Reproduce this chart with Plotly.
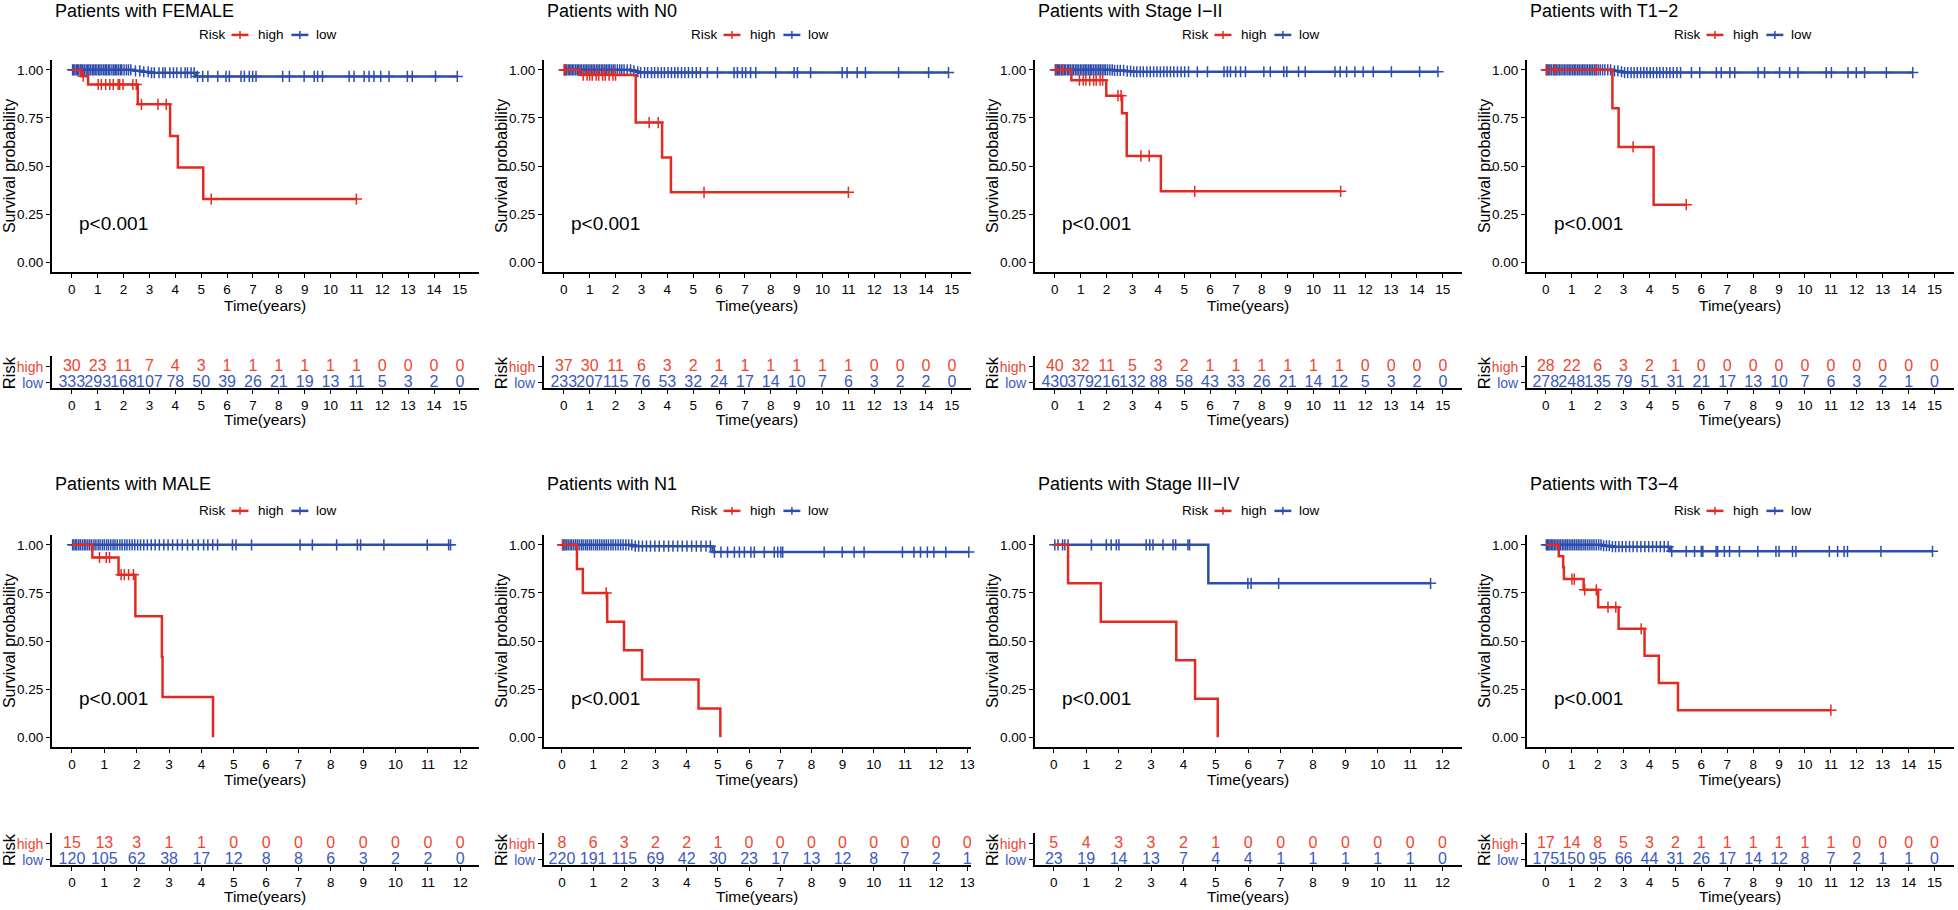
import plotly.graph_objects as go

W, H = 1958, 910
FONT = "Liberation Sans, Arial, sans-serif"
RED = "#E42A20"
BLUE = "#2C4DAE"
RED_T = "#EE4630"
BLUE_T = "#3B5BC0"

# ---------------- data ----------------
TITLES = ["Patients with FEMALE", "Patients with N0", "Patients with Stage I\u2212II", "Patients with T1\u22122",
          "Patients with MALE", "Patients with N1", "Patients with Stage III\u2212IV", "Patients with T3\u22124"]
PVALUE = "p<0.001"
X_MAX_TICK = [15, 15, 15, 15, 12, 13, 12, 15]
X_RANGES = [[-0.77, 15.74], [-0.77, 15.74], [-0.77, 15.74], [-0.73, 15.75],
            [-0.62, 12.58], [-0.58, 13.12], [-0.585, 12.6], [-0.73, 15.75]]

# FEMALE
FEMALE_HIGH_T = [0, 0.37, 0.63, 2.55, 3.8, 4.1, 5.08]
FEMALE_HIGH_S = [1.0, 0.967, 0.924, 0.821, 0.657, 0.493, 0.329]
FEMALE_HIGH_CENS = [0.44, 1.02, 1.14, 1.31, 1.47, 1.6, 1.79, 1.85, 1.98, 2.36, 2.49, 2.69, 3.33, 3.65, 5.39, 11.0]
FEMALE_LOW_T = [0, 2.4, 2.7, 3.0, 4.8]
FEMALE_LOW_S = [1.0, 0.995, 0.99, 0.985, 0.966]
FEMALE_LOW_CENS = [0.03, 0.07, 0.12, 0.18, 0.21, 0.27, 0.33, 0.36, 0.42, 0.48, 0.55, 0.61, 0.66, 0.72, 0.79, 0.85,
                   0.91, 0.97, 1.04, 1.09, 1.16, 1.23, 1.29, 1.34, 1.41, 1.47, 1.55, 1.62, 1.68, 1.74, 1.81, 1.88,
                   1.93, 2.02, 2.11, 2.19, 2.28, 2.46, 2.63, 2.78, 2.95, 3.08, 3.19, 3.37, 3.52, 3.61, 3.79, 3.93,
                   4.06, 4.22, 4.38, 4.47, 4.61, 4.73, 4.86, 5.06, 5.26, 5.64, 5.96, 6.09, 6.54, 6.67, 6.86, 6.99,
                   7.12, 8.15, 8.41, 8.98, 9.37, 9.5, 9.69, 10.72, 10.91, 11.3, 11.49, 11.68, 11.94, 12.26, 12.97,
                   13.16, 14.06, 14.9]
FEMALE_RISK_HIGH = [30, 23, 11, 7, 4, 3, 1, 1, 1, 1, 1, 1, 0, 0, 0, 0]
FEMALE_RISK_LOW = [333, 293, 168, 107, 78, 50, 39, 26, 21, 19, 13, 11, 5, 3, 2, 0]

# N0
N0_HIGH_T = [0, 0.62, 2.78, 3.8, 4.14]
N0_HIGH_S = [1.0, 0.973, 0.726, 0.545, 0.364]
N0_HIGH_CENS = [0.02, 0.05, 0.75, 0.9, 1.0, 1.1, 1.25, 1.35, 1.5, 1.6, 1.75, 1.9, 2.0, 3.3, 3.65, 5.42, 11.0]
N0_LOW_T = [0, 2.6, 2.8, 2.9]
N0_LOW_S = [1.0, 0.995, 0.99, 0.986]
N0_LOW_CENS = [0.02, 0.06, 0.11, 0.17, 0.23, 0.28, 0.34, 0.39, 0.46, 0.52, 0.57, 0.63, 0.69, 0.76, 0.82, 0.88,
               0.94, 1.01, 1.07, 1.13, 1.19, 1.26, 1.32, 1.38, 1.45, 1.51, 1.58, 1.64, 1.71, 1.77, 1.84, 1.91,
               1.98, 2.07, 2.16, 2.24, 2.33, 2.45, 2.58, 2.71, 2.86, 2.97, 3.12, 3.24, 3.39, 3.51, 3.64, 3.77,
               3.89, 4.03, 4.16, 4.29, 4.41, 4.55, 4.68, 4.82, 4.97, 5.12, 5.28, 5.55, 5.94, 6.58, 6.71, 6.9,
               7.03, 7.22, 7.42, 8.19, 8.9, 9.03, 9.54, 10.76, 10.95, 11.34, 11.66, 12.94, 14.1, 14.87]
N0_RISK_HIGH = [37, 30, 11, 6, 3, 2, 1, 1, 1, 1, 1, 1, 0, 0, 0, 0]
N0_RISK_LOW = [233, 207, 115, 76, 53, 32, 24, 17, 14, 10, 7, 6, 3, 2, 2, 0]

# Stage I-II
S12_HIGH_T = [0, 0.64, 1.99, 2.6, 2.78, 4.1]
S12_HIGH_S = [1.0, 0.946, 0.866, 0.774, 0.553, 0.369]
S12_HIGH_CENS = [0.05, 0.3, 0.95, 1.1, 1.2, 1.35, 1.5, 1.6, 1.75, 1.85, 2.44, 2.56, 3.33, 3.65, 5.41, 11.05]
S12_LOW_T = [0, 2.3, 2.7, 2.95]
S12_LOW_S = [1.0, 0.997, 0.993, 0.99]
S12_LOW_CENS = [0.02, 0.05, 0.1, 0.14, 0.19, 0.25, 0.31, 0.37, 0.42, 0.49, 0.54, 0.6, 0.67, 0.73, 0.8, 0.86,
                0.92, 0.99, 1.05, 1.12, 1.18, 1.24, 1.31, 1.37, 1.43, 1.5, 1.57, 1.63, 1.7, 1.76, 1.83, 1.9,
                1.96, 2.04, 2.13, 2.22, 2.31, 2.42, 2.53, 2.66, 2.8, 2.93, 3.05, 3.17, 3.3, 3.42, 3.56, 3.69,
                3.82, 3.95, 4.08, 4.21, 4.34, 4.47, 4.6, 4.74, 4.88, 5.02, 5.17, 5.51, 5.9, 6.54, 6.67, 6.79,
                6.99, 7.18, 7.37, 8.08, 8.33, 8.85, 8.97, 9.42, 9.68, 10.83, 11.03, 11.28, 11.6, 11.92, 12.31,
                13.01, 14.1, 14.81]
S12_RISK_HIGH = [40, 32, 11, 5, 3, 2, 1, 1, 1, 1, 1, 1, 0, 0, 0, 0]
S12_RISK_LOW = [430, 379, 216, 132, 88, 58, 43, 33, 26, 21, 14, 12, 5, 3, 2, 0]

# T1-2
T12_HIGH_T = [0, 2.57, 2.81, 4.16]
T12_HIGH_S = [1.0, 0.8, 0.6, 0.3]
T12_HIGH_CENS = [0.03, 0.35, 1.95, 3.37, 5.42]
T12_LOW_T = [0, 2.6, 2.8, 3.0]
T12_LOW_S = [1.0, 0.995, 0.99, 0.986]
T12_LOW_CENS = [0.02, 0.07, 0.12, 0.16, 0.22, 0.29, 0.35, 0.41, 0.47, 0.53, 0.59, 0.66, 0.72, 0.78, 0.85, 0.91,
                0.97, 1.04, 1.1, 1.16, 1.23, 1.29, 1.36, 1.42, 1.48, 1.55, 1.61, 1.68, 1.74, 1.8, 1.87, 1.94,
                2.02, 2.1, 2.19, 2.28, 2.39, 2.5, 2.65, 2.78, 2.92, 3.04, 3.16, 3.29, 3.41, 3.53, 3.66, 3.78,
                3.9, 4.03, 4.15, 4.28, 4.4, 4.53, 4.66, 4.79, 4.92, 5.06, 5.2, 5.62, 5.94, 6.58, 6.77, 7.1, 7.29,
                8.19, 8.44, 9.02, 9.41, 9.73, 10.82, 11.02, 11.66, 11.98, 12.3, 13.14, 14.16]
T12_RISK_HIGH = [28, 22, 6, 3, 2, 1, 0, 0, 0, 0, 0, 0, 0, 0, 0, 0]
T12_RISK_LOW = [278, 248, 135, 79, 51, 31, 21, 17, 13, 10, 7, 6, 3, 2, 1, 0]

# MALE
MALE_HIGH_T = [0, 0.63, 1.44, 1.96, 2.78, 2.8, 4.36]
MALE_HIGH_S = [1.0, 0.934, 0.845, 0.629, 0.417, 0.21, 0.0]
MALE_HIGH_CENS = [0.85, 1.06, 1.16, 1.52, 1.62, 1.75, 1.9]
MALE_LOW_T = [0]
MALE_LOW_S = [1.0]
MALE_LOW_CENS = [0.02, 0.06, 0.11, 0.15, 0.21, 0.26, 0.32, 0.38, 0.43, 0.49, 0.55, 0.61, 0.68, 0.74, 0.81, 0.87,
                 0.94, 1.0, 1.07, 1.13, 1.2, 1.27, 1.33, 1.4, 1.48, 1.55, 1.63, 1.7, 1.78, 1.86, 1.94, 2.03,
                 2.12, 2.22, 2.33, 2.45, 2.57, 2.7, 2.84, 2.97, 3.11, 3.26, 3.41, 3.57, 3.73, 3.9, 4.07, 4.2,
                 4.35, 4.5, 4.96, 5.07, 5.55, 7.05, 7.43, 8.18, 8.82, 8.92, 9.64, 10.98, 11.64, 11.7]
MALE_RISK_HIGH = [15, 13, 3, 1, 1, 0, 0, 0, 0, 0, 0, 0, 0]
MALE_RISK_LOW = [120, 105, 62, 38, 17, 12, 8, 8, 6, 3, 2, 2, 0]

# N1
N1_HIGH_T = [0, 0.48, 0.67, 1.45, 1.99, 2.57, 4.38, 5.08]
N1_HIGH_S = [1.0, 0.874, 0.75, 0.6, 0.452, 0.3, 0.15, 0.0]
N1_HIGH_CENS = [0.02, 1.42]
N1_LOW_T = [0, 2.25, 4.83]
N1_LOW_S = [1.0, 0.993, 0.962]
N1_LOW_CENS = [0.02, 0.06, 0.1, 0.15, 0.2, 0.26, 0.31, 0.37, 0.43, 0.49, 0.55, 0.62, 0.68, 0.75, 0.81, 0.88,
               0.94, 1.01, 1.08, 1.14, 1.21, 1.28, 1.35, 1.42, 1.49, 1.57, 1.64, 1.72, 1.8, 1.88, 1.96, 2.05,
               2.14, 2.24, 2.35, 2.46, 2.58, 2.71, 2.84, 2.98, 3.12, 3.27, 3.42, 3.56, 3.71, 3.86, 4.01, 4.16,
               4.31, 4.46, 4.62, 4.76, 4.89, 5.1, 5.31, 5.53, 5.69, 5.85, 6.06, 6.17, 6.49, 6.81, 6.92, 7.02,
               7.08, 8.41, 8.99, 9.37, 9.69, 10.92, 11.29, 11.5, 11.72, 11.93, 12.31, 13.05]
N1_RISK_HIGH = [8, 6, 3, 2, 2, 1, 0, 0, 0, 0, 0, 0, 0, 0]
N1_RISK_LOW = [220, 191, 115, 69, 42, 30, 23, 17, 13, 12, 8, 7, 2, 1]

# Stage III-IV
S34_HIGH_T = [0, 0.44, 1.45, 3.78, 4.36, 5.06]
S34_HIGH_S = [1.0, 0.8, 0.6, 0.4, 0.2, 0.0]
S34_HIGH_CENS = []
S34_LOW_T = [0, 4.77]
S34_LOW_S = [1.0, 0.8]
S34_LOW_CENS = [0.03, 0.13, 0.27, 0.34, 0.44, 1.16, 1.62, 1.77, 1.93, 2.01, 2.85, 2.96, 3.06, 3.37, 3.68, 3.76,
                4.14, 4.19, 5.99, 6.09, 6.94, 11.63]
S34_RISK_HIGH = [5, 4, 3, 3, 2, 1, 0, 0, 0, 0, 0, 0, 0]
S34_RISK_LOW = [23, 19, 14, 13, 7, 4, 4, 1, 1, 1, 1, 1, 0]

# T3-4
T34_HIGH_T = [0, 0.5, 0.67, 0.7, 1.46, 2.02, 2.81, 3.81, 4.36, 5.1]
T34_HIGH_S = [1.0, 0.941, 0.883, 0.822, 0.766, 0.676, 0.564, 0.424, 0.283, 0.141]
T34_HIGH_CENS = [1.01, 1.1, 1.5, 1.95, 2.4, 2.7, 3.68, 11.0]
T34_LOW_T = [0, 2.2, 2.5, 4.8]
T34_LOW_S = [1.0, 0.995, 0.99, 0.966]
T34_LOW_CENS = [0.02, 0.06, 0.11, 0.16, 0.21, 0.27, 0.33, 0.39, 0.45, 0.51, 0.57, 0.64, 0.7, 0.77, 0.83, 0.9,
                0.97, 1.04, 1.11, 1.18, 1.25, 1.32, 1.39, 1.47, 1.54, 1.62, 1.7, 1.78, 1.86, 1.95, 2.04, 2.13,
                2.23, 2.34, 2.45, 2.57, 2.69, 2.82, 2.95, 3.09, 3.23, 3.37, 3.52, 3.67, 3.82, 3.97, 4.12, 4.27,
                4.42, 4.57, 4.72, 4.86, 5.42, 5.74, 6.0, 6.06, 6.57, 6.63, 6.89, 7.09, 7.47, 8.18, 8.88, 9.0,
                9.52, 9.65, 10.94, 11.26, 11.51, 11.64, 12.93, 14.92]
T34_RISK_HIGH = [17, 14, 8, 5, 3, 2, 1, 1, 1, 1, 1, 1, 0, 0, 0, 0]
T34_RISK_LOW = [175, 150, 95, 66, 44, 31, 26, 17, 14, 12, 8, 7, 2, 1, 1, 0]

PANELS = [
    (FEMALE_HIGH_T, FEMALE_HIGH_S, FEMALE_HIGH_CENS, FEMALE_LOW_T, FEMALE_LOW_S, FEMALE_LOW_CENS, FEMALE_RISK_HIGH, FEMALE_RISK_LOW),
    (N0_HIGH_T, N0_HIGH_S, N0_HIGH_CENS, N0_LOW_T, N0_LOW_S, N0_LOW_CENS, N0_RISK_HIGH, N0_RISK_LOW),
    (S12_HIGH_T, S12_HIGH_S, S12_HIGH_CENS, S12_LOW_T, S12_LOW_S, S12_LOW_CENS, S12_RISK_HIGH, S12_RISK_LOW),
    (T12_HIGH_T, T12_HIGH_S, T12_HIGH_CENS, T12_LOW_T, T12_LOW_S, T12_LOW_CENS, T12_RISK_HIGH, T12_RISK_LOW),
    (MALE_HIGH_T, MALE_HIGH_S, MALE_HIGH_CENS, MALE_LOW_T, MALE_LOW_S, MALE_LOW_CENS, MALE_RISK_HIGH, MALE_RISK_LOW),
    (N1_HIGH_T, N1_HIGH_S, N1_HIGH_CENS, N1_LOW_T, N1_LOW_S, N1_LOW_CENS, N1_RISK_HIGH, N1_RISK_LOW),
    (S34_HIGH_T, S34_HIGH_S, S34_HIGH_CENS, S34_LOW_T, S34_LOW_S, S34_LOW_CENS, S34_RISK_HIGH, S34_RISK_LOW),
    (T34_HIGH_T, T34_HIGH_S, T34_HIGH_CENS, T34_LOW_T, T34_LOW_S, T34_LOW_CENS, T34_RISK_HIGH, T34_RISK_LOW),
]

# ---------------- layout geometry (pixels) ----------------
COL_LEFT = [52, 545, 1037, 1530]
PANEL_W = 428
ROW_KM = [(60.35, 272.65), (536.35, 748.65)]
ROW_RISK = [(357, 389), (835, 867)]
ROW_TITLE_Y = [11, 485]
ROW_LEGEND_Y = [35, 512]
ROW_KMXT_Y = [306, 781]
ROW_RISKXT_Y = [420, 898]
RISK_Y_RANGE = [0.66, 2.66]


def fx(p):
    return p / W


def fy(p):
    return 1 - p / H


def surv_at(ts, ss, t):
    s = ss[0]
    for ti, si in zip(ts, ss):
        if ti <= t:
            s = si
    return s


def sfx(n):
    return "" if n == 1 else str(n)


fig = go.Figure()
layout = dict(width=W, height=H, margin=dict(l=0, r=0, t=0, b=0),
              paper_bgcolor="white", plot_bgcolor="white", showlegend=False,
              font=dict(family=FONT, color="black"))
annotations = []
shapes = []

axis_common = dict(showline=True, linecolor="black", linewidth=1.7, ticks="outside", ticklen=4,
                   tickwidth=1.4, tickcolor="black", showgrid=False, zeroline=False,
                   tickfont=dict(size=13.5, color="black", family=FONT), fixedrange=True)

for i, (hT, hS, hC, lT, lS, lC, rH, rL) in enumerate(PANELS):
    r, c = divmod(i, 4)
    left = COL_LEFT[c]
    right = left + PANEL_W
    km_n = 2 * i + 1
    rk_n = 2 * i + 2
    xr = X_RANGES[i]
    nt = X_MAX_TICK[i]
    xt = list(range(nt + 1))

    layout["xaxis" + sfx(km_n)] = dict(axis_common, domain=[fx(left), fx(right)], range=xr,
                                        tickvals=xt, anchor="y" + sfx(km_n))
    layout["yaxis" + sfx(km_n)] = dict(axis_common, domain=[fy(ROW_KM[r][1]), fy(ROW_KM[r][0])],
                                        range=[-0.05, 1.05], tickvals=[0, 0.25, 0.5, 0.75, 1.0],
                                        ticktext=["0.00", "0.25", "0.50", "0.75", "1.00"],
                                        anchor="x" + sfx(km_n))
    layout["xaxis" + sfx(rk_n)] = dict(axis_common, domain=[fx(left), fx(right)], range=xr,
                                        tickvals=xt, anchor="y" + sfx(rk_n))
    layout["yaxis" + sfx(rk_n)] = dict(axis_common, domain=[fy(ROW_RISK[r][1]), fy(ROW_RISK[r][0])],
                                        range=RISK_Y_RANGE, tickvals=[1, 2],
                                        ticktext=[f'<span style="color:{BLUE_T}">low</span>',
                                                  f'<span style="color:{RED_T}">high</span>'],
                                        tickfont=dict(size=14, family=FONT),
                                        anchor="x" + sfx(rk_n))

    xa, ya = "x" + sfx(km_n), "y" + sfx(km_n)
    for T, S, C, col in ((lT, lS, lC, BLUE), (hT, hS, hC, RED)):
        t_end = max(list(T) + list(C))
        xs = list(T) + [t_end]
        ys = list(S) + [S[-1]]
        fig.add_trace(go.Scatter(x=xs, y=ys, mode="lines", line=dict(color=col, width=2.5, shape="hv"),
                                 xaxis=xa, yaxis=ya, hoverinfo="skip", cliponaxis=False))
        if C:
            fig.add_trace(go.Scatter(x=C, y=[surv_at(T, S, t) for t in C], mode="markers",
                                     marker=dict(symbol="cross-thin", size=8, color=col,
                                                 line=dict(color=col, width=1.5)),
                                     xaxis=xa, yaxis=ya, hoverinfo="skip", cliponaxis=False))

    # risk table
    xb, yb = "x" + sfx(rk_n), "y" + sfx(rk_n)
    fig.add_trace(go.Scatter(x=xt, y=[2] * len(rH), text=[str(v) for v in rH], mode="text",
                             textfont=dict(color=RED_T, size=16, family=FONT), xaxis=xb, yaxis=yb,
                             hoverinfo="skip", cliponaxis=False))
    fig.add_trace(go.Scatter(x=xt, y=[1] * len(rL), text=[str(v) for v in rL], mode="text",
                             textfont=dict(color=BLUE_T, size=16, family=FONT), xaxis=xb, yaxis=yb,
                             hoverinfo="skip", cliponaxis=False))

    # title
    annotations.append(dict(text=TITLES[i], x=fx(left + 1), y=fy(ROW_TITLE_Y[r]), xref="paper", yref="paper",
                            xanchor="left", yanchor="middle", showarrow=False,
                            font=dict(size=18, family=FONT, color="black")))
    # legend
    ly = ROW_LEGEND_Y[r]
    for txt, off in (("Risk", 145), ("high", 205), ("low", 263)):
        annotations.append(dict(text=txt, x=fx(left + off), y=fy(ly), xref="paper", yref="paper",
                                xanchor="left", yanchor="middle", showarrow=False,
                                font=dict(size=13.5, family=FONT, color="black")))
    for col, (a, b) in ((RED, (180, 197)), (BLUE, (240, 257))):
        shapes.append(dict(type="line", xref="paper", yref="paper", x0=fx(left + a), x1=fx(left + b),
                           y0=fy(ly), y1=fy(ly), line=dict(color=col, width=2.5)))
        m = left + (a + b) / 2
        shapes.append(dict(type="line", xref="paper", yref="paper", x0=fx(m), x1=fx(m),
                           y0=fy(ly - 4), y1=fy(ly + 4), line=dict(color=col, width=1.5)))
    # p value
    annotations.append(dict(text=PVALUE, x=0.145, y=0.2, xref=xa + " domain", yref=ya,
                            xanchor="center", yanchor="middle", showarrow=False,
                            font=dict(size=19, family=FONT, color="black")))
    # axis titles
    km_mid = (ROW_KM[r][0] + ROW_KM[r][1]) / 2
    annotations.append(dict(text="Survival probability", x=fx(left - 43), y=fy(km_mid), xref="paper",
                            yref="paper", xanchor="center", yanchor="middle", textangle=-90,
                            showarrow=False, font=dict(size=16, family=FONT, color="black")))
    annotations.append(dict(text="Time(years)", x=fx((left + right) / 2), y=fy(ROW_KMXT_Y[r]), xref="paper",
                            yref="paper", xanchor="center", yanchor="middle", showarrow=False,
                            font=dict(size=15.5, family=FONT, color="black")))
    rk_mid = (ROW_RISK[r][0] + ROW_RISK[r][1]) / 2
    annotations.append(dict(text="Risk", x=fx(left - 43), y=fy(rk_mid), xref="paper",
                            yref="paper", xanchor="center", yanchor="middle", textangle=-90,
                            showarrow=False, font=dict(size=16.5, family=FONT, color="black")))
    annotations.append(dict(text="Time(years)", x=fx((left + right) / 2), y=fy(ROW_RISKXT_Y[r]), xref="paper",
                            yref="paper", xanchor="center", yanchor="middle", showarrow=False,
                            font=dict(size=15.5, family=FONT, color="black")))

layout["annotations"] = annotations
layout["shapes"] = shapes
fig.update_layout(**layout)
fig.write_html("out.html", config={"displayModeBar": False},
               post_script="document.body.style.margin='0';document.body.style.padding='0';"
                           "document.documentElement.style.overflow='hidden';")
